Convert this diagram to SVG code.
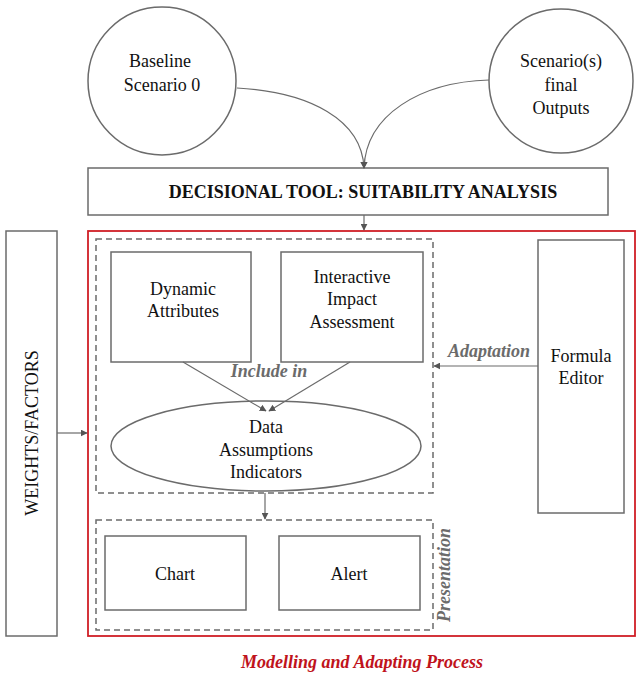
<svg xmlns="http://www.w3.org/2000/svg" width="637" height="675" viewBox="0 0 637 675" font-family="'Liberation Serif', 'DejaVu Serif', serif">
<style>
text{font-family:'Liberation Serif','DejaVu Serif',serif;font-size:18px;fill:#111;text-anchor:middle}
.n{fill:#fff;stroke:#6b6b6b;stroke-width:1.5}
.d{fill:none;stroke:#6b6b6b;stroke-width:1.5;stroke-dasharray:6 4}
.c{fill:none;stroke:#6b6b6b;stroke-width:1.2}
.lab{font-style:italic;font-weight:bold;fill:#6b6b6b}
</style>
<defs>
<marker id="ah" viewBox="0 0 10 10" refX="9" refY="5" markerWidth="7" markerHeight="7" orient="auto" markerUnits="userSpaceOnUse">
<path d="M0,0 L10,5 L0,10 z" fill="#555"/>
</marker>
</defs>
<rect x="0" y="0" width="637" height="675" fill="#fff"/>
<g id="baseline"><circle class="n" cx="162" cy="81" r="74"/><text x="160" y="67">Baseline</text><text x="162" y="91">Scenario  0</text></g>
<g id="scenarios"><circle class="n" cx="561" cy="81" r="72"/><text x="561" y="67">Scenario(s)</text><text x="561" y="91">final</text><text x="561" y="114">Outputs</text></g>
<g id="decisional"><rect class="n" x="88" y="168" width="520" height="47"/><text x="363" y="198" style="font-weight:bold;font-size:18px">DECISIONAL TOOL: SUITABILITY ANALYSIS</text></g>
<g id="weights"><rect class="n" x="6" y="231" width="51" height="405"/><text transform="translate(38,433) rotate(-90)">WEIGHTS/FACTORS</text></g>
<g id="process"><rect x="88" y="231" width="547" height="405" fill="none" stroke="#d01f26" stroke-width="1.8"/><text x="362" y="668" style="font-style:italic;font-weight:bold;fill:#c0131b">Modelling and Adapting Process</text></g>
<g id="modelling-group"><rect class="d" x="96" y="239" width="337" height="254"/></g>
<g id="dynamic"><rect class="n" x="111" y="252" width="140" height="110"/><text x="183" y="295">Dynamic</text><text x="183" y="317">Attributes</text></g>
<g id="interactive"><rect class="n" x="281" y="252" width="142" height="110"/><text x="352" y="283">Interactive</text><text x="352" y="305">Impact</text><text x="352" y="328">Assessment</text></g>
<g id="data"><ellipse class="n" cx="266" cy="446" rx="155" ry="45"/><text x="266" y="433">Data</text><text x="266" y="456">Assumptions</text><text x="266" y="478">Indicators</text></g>
<g id="formula"><rect class="n" x="538" y="240" width="86" height="273"/><text x="581" y="362">Formula</text><text x="581" y="384">Editor</text></g>
<g id="presentation-group"><rect class="d" x="96" y="520" width="337" height="110"/><text class="lab" transform="translate(450,575) rotate(-90)">Presentation</text></g>
<g id="chart"><rect class="n" x="105" y="536" width="141" height="74"/><text x="175" y="580">Chart</text></g>
<g id="alert"><rect class="n" x="279" y="536" width="141" height="74"/><text x="349" y="580">Alert</text></g>
<g id="connectors">
<path class="c" d="M237,88 C310,92 362,120 364,168" marker-end="url(#ah)"/>
<path class="c" d="M489,80 C420,82 366,115 364,168" marker-end="url(#ah)"/>
<path class="c" d="M364,215 L364,230" marker-end="url(#ah)"/>
<path class="c" d="M57,433 L87,433" marker-end="url(#ah)"/>
<path class="c" d="M183,362 L266,411" marker-end="url(#ah)"/>
<path class="c" d="M350,362 L269,411" marker-end="url(#ah)"/>
<text class="lab" x="269" y="377">Include in</text>
<path class="c" d="M538,366 L434,366" marker-end="url(#ah)"/>
<text class="lab" x="489" y="357">Adaptation</text>
<path class="c" d="M265,493 L265,519" marker-end="url(#ah)"/>
</g>
</svg>
